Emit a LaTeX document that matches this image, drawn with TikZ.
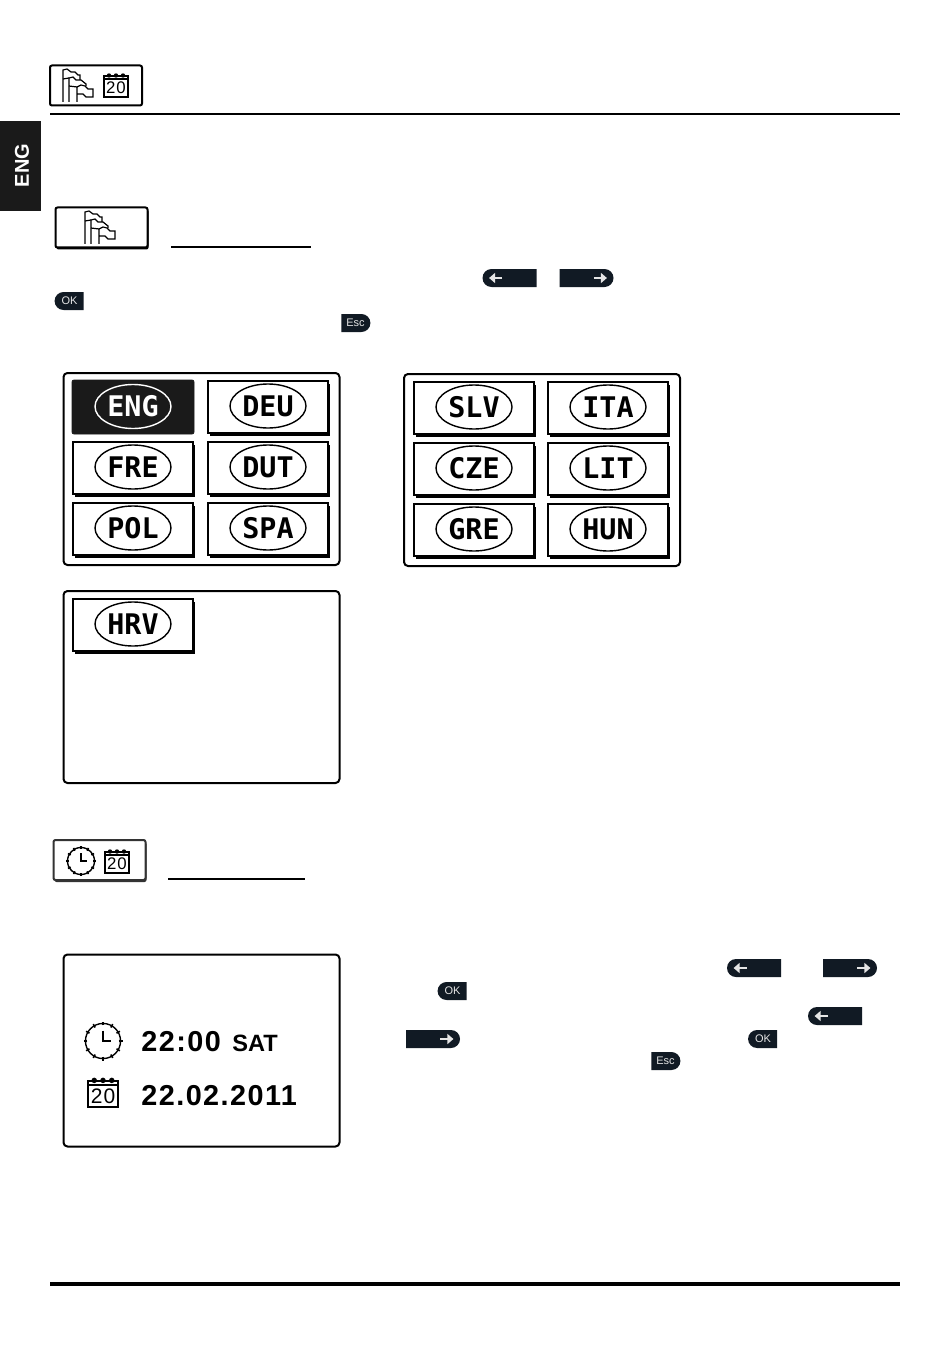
\documentclass[tikz,border=0pt]{standalone}
\usepackage{fontspec}
\setmainfont{Liberation Sans}
\newfontfamily\lcdfont{DejaVu Sans Mono}
\newfontfamily\digitfont[LetterSpace=5]{Liberation Sans}
\usetikzlibrary{shapes.geometric,shapes.misc,shadows,arrows.meta}

\definecolor{keyblack}{HTML}{111A24}
\definecolor{tabblack}{HTML}{1A1A1A}

\tikzset{
	flagsicon/.pic={
		\draw [line width=0.6pt] (0,0) -- (0,-32) -- (4,-33) -- (8,-30) -- (12,-30) -- (15,-27) -- (17,-27) -- (17,-22);
		\draw [line width=0.6pt] (0,-23) -- (6,-24);
		\draw [line width=0.6pt] (6,0) -- (6,-24) -- (10,-25) -- (13,-22) -- (18,-22) -- (23,-18) -- (23,-16);
		\draw [line width=0.6pt] (6,-16) -- (14,-15);
		\draw [line width=0.6pt] (14,0) -- (14,-15) -- (18,-17) -- (22,-16) -- (25,-13) -- (30,-13) -- (30,-5) -- (23,-5) -- (20,-8) -- (14,-8);
	},
	calicon/.pic={
		\draw [line width=1pt] (0,4) rectangle (24,25);
		\draw [line width=1pt] (0,7) -- (24,7);
		\foreach \t in {5, 12, 19}
			\fill (\t,3.5) circle [radius=2.2];
		\node (-num) at (12,16) [font=\digitfont\fontsize{8.4}{9}\selectfont, inner sep=0pt, transform shape] {20};
	},
	clockicon/.pic={
		\draw [line width=0.7pt] (0,0) circle [radius=13.5];
		\foreach \t in {0, 30, ..., 330}
			\draw [line width=0.8pt] (\t:12) -- (\t:15);
		\draw [line width=0.7pt] (0,-8) -- (0,0) -- (6,0);
	}
}

\begin{document}
\begin{tikzpicture}[x=0.5pt, y=-0.5pt]
	\tikzstyle{Panel}	= [draw, line width=1pt, rounded corners=2pt, fill=white, minimum width=138pt, minimum height=96pt, inner sep=0pt]
	\tikzstyle{Btn}		= [draw, line width=0.9pt, fill=white, minimum width=60pt, minimum height=26pt, inner sep=0pt, general shadow={fill=black, shadow xshift=0.8pt, shadow yshift=-1.5pt}]
	\tikzstyle{BtnOn}	= [fill=tabblack, draw=tabblack, minimum width=61pt, minimum height=27pt, rounded corners=1pt, inner sep=0pt]
	\tikzstyle{Oval}	= [ellipse, draw, line width=0.7pt, minimum width=38pt, minimum height=22pt, inner sep=0pt, font=\lcdfont\bfseries\fontsize{14.2}{15}\selectfont]
	\tikzstyle{IconBox}	= [draw, line width=1pt, rounded corners=1pt, fill=white, minimum width=46pt, minimum height=20pt, inner sep=0pt]
	\tikzstyle{Key}		= [rounded rectangle, fill=keyblack, text=white!90!black, minimum height=9pt, inner sep=0pt, font=\fontsize{5.5}{6}\selectfont]
	\tikzstyle{KeyL}	= [Key, rounded rectangle right arc=none, minimum width=27pt]
	\tikzstyle{KeyR}	= [Key, rounded rectangle left arc=none, minimum width=27pt]
	\tikzstyle{KeyOK}	= [Key, rounded rectangle right arc=none, minimum width=14.5pt]
	\tikzstyle{KeyEsc}	= [Key, rounded rectangle left arc=none, minimum width=14.5pt]
	\tikzstyle{KeyArrow}	= [white!90!black, line width=1.3pt, -{Triangle[length=3pt, width=5pt]}]
	\tikzstyle{Lcd}		= [inner sep=0pt, anchor=west, font=\digitfont\bfseries\fontsize{14.4}{15}\selectfont]

	\useasboundingbox [fill=white] (0,0) rectangle (950,1348);

	% page rules
	\draw [line width=1pt] (50,114) -- (900,114);
	\draw [line width=2.3pt] (50,1284) -- (900,1284);
	\draw [line width=1pt] (171,247) -- (311,247);
	\draw [line width=1pt] (168,879) -- (305,879);

	% side tab
	\node (tab) at (20.5,166) [fill=tabblack, minimum width=20.5pt, minimum height=45pt, inner sep=0pt] {};
	\node (tabtext) at (22,165.5) [rotate=90, text=white, inner sep=0pt, font=\bfseries\fontsize{10}{10}\selectfont] {ENG};

	% heading icons
	\node (boxa) at (96,85.5) [IconBox] {};
	\pic (flaga) at (63,102) {flagsicon};
	\pic (cala) at (104,72) {calicon};

	\node (boxb) at (101.5,227.5) [IconBox, general shadow={fill=black, shadow xshift=0.5pt, shadow yshift=-1pt}] {};
	\pic (flagb) at (85,244) {flagsicon};

	\node (boxc) at (99.5,860) [IconBox, draw=black!80, general shadow={fill=black!80, shadow xshift=0.5pt, shadow yshift=-1pt}] {};
	\pic (clockc) at (81,861) {clockicon};
	\pic (calc) at (105,848) {calicon};

	% keys
	\foreach \n/\x/\y in {a/509.5/278, b/754/968, c/835/1016}
	{
		\node (kl\n) at (\x,\y) [KeyL] {};
		\draw [KeyArrow] ([xshift=10pt]kl\n.west) -- ([xshift=3.5pt]kl\n.west);
	}
	\foreach \n/\x/\y in {a/586.5/278, b/850/968, c/433/1039}
	{
		\node (kr\n) at (\x,\y) [KeyR] {};
		\draw [KeyArrow] ([xshift=-10pt]kr\n.east) -- ([xshift=-3.5pt]kr\n.east);
	}
	\foreach \n/\x/\y in {a/69.5/301, b/452.5/991, c/763/1039}
		\node (ok\n) at (\x,\y) [KeyOK] {OK};
	\foreach \n/\x/\y in {a/355.5/323, b/665.5/1061}
		\node (esc\n) at (\x,\y) [KeyEsc] {Esc};

	% language panels
	\node (pa) at (201.5,469) [Panel] {};
	\node (pb) at (542,470) [Panel] {};
	\node (pc) at (201.5,687) [Panel] {};
	\node (pd) at (201.5,1050.5) [Panel] {};

	\node (bENG) at (133,407) [BtnOn] {};
	\node (oENG) at (133,406.5) [Oval, draw=white, text=white, fill=tabblack] {ENG};

	\foreach \t/\x/\y in {DEU/268/407, FRE/133/468, DUT/268/468, POL/133/529, SPA/268/529,
			SLV/474/408, ITA/608/408, CZE/474/469, LIT/608/469, GRE/474/530, HUN/608/530, HRV/133/625}
	{
		\node (b\t) at (\x,\y) [Btn] {};
		\node (o\t) at (\x,\y-1) [Oval] {\t};
	}

	% time and date panel
	\pic (clockd) at (103,1041) [scale=1.3] {clockicon};
	\pic (cald) at (88,1076) [scale=1.25] {calicon};
	\node (time) at (141,1042) [Lcd] {22:00};
	\node (day) at (232,1043) [inner sep=0pt, anchor=west, font=\bfseries\fontsize{11.8}{12}\selectfont] {SAT};
	\node (date) at (141,1095.5) [Lcd] {22.02.2011};
\end{tikzpicture}
\end{document}
